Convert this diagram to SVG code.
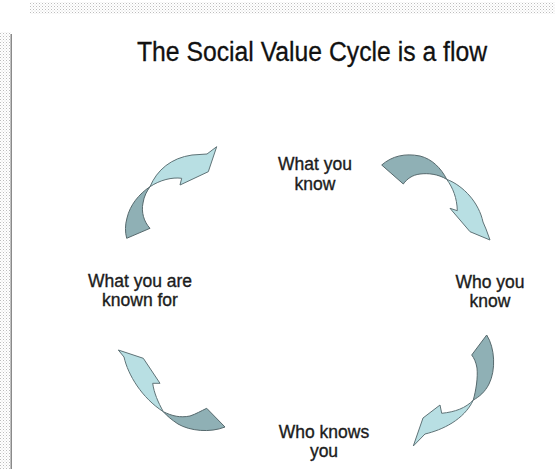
<svg xmlns="http://www.w3.org/2000/svg" width="555" height="469" viewBox="0 0 555 469">
  <defs>
    <pattern id="dots" width="3" height="3" patternUnits="userSpaceOnUse">
      <rect x="0" y="0" width="1" height="1" fill="#bdbdbd"/>
      <rect x="1.5" y="1.5" width="1" height="1" fill="#d6d6d6"/>
    </pattern>
    <style>
      .lbl { font-family: "Liberation Sans", Arial, sans-serif; font-size: 17.5px; fill: #1c1c1c; stroke: #1c1c1c; stroke-width: 0.35; text-anchor: middle; }
      .title { font-family: "Liberation Sans", Arial, sans-serif; font-size: 27px; fill: #111; stroke: #111; stroke-width: 0.3; text-anchor: middle; }
      .tail { fill: #8fb0b5; stroke: #56696d; stroke-width: 1; stroke-linejoin: round; }
      .head { fill: #b8dfe3; stroke: #5f7377; stroke-width: 1; stroke-linejoin: round; }
    </style>
  </defs>
  <rect x="0" y="0" width="555" height="469" fill="#ffffff"/>
  <!-- border decoration -->
  <rect x="30" y="2" width="525" height="12" fill="url(#dots)"/>
  <rect x="0" y="32" width="11" height="437" fill="url(#dots)"/>
  <rect x="10.5" y="34" width="1.5" height="435" fill="#8a8a8a"/>

  <text class="title" x="312" y="61" textLength="350" lengthAdjust="spacingAndGlyphs">The Social Value Cycle is a flow</text>

  <g id="node-what-you-know">
    <text class="lbl" x="315" y="170">What you</text>
    <text class="lbl" x="315" y="190">know</text>
  </g>
  <g id="node-who-you-know">
    <text class="lbl" x="490" y="288">Who you</text>
    <text class="lbl" x="490" y="307">know</text>
  </g>
  <g id="node-who-knows-you">
    <text class="lbl" x="324" y="438">Who knows</text>
    <text class="lbl" x="324" y="457">you</text>
  </g>
  <g id="node-what-you-are-known-for">
    <text class="lbl" x="140" y="287">What you are</text>
    <text class="lbl" x="140" y="306">known for</text>
  </g>

  <g id="connectors">
    <!-- top-right -->
    <g id="arrow-tr">
      <path class="tail" d="M381.7,165 C392,156 405,153 420,156 C432,159 441,168 446.7,179.3 C438,174 428,173 420,174 C412,175 407,179 403.3,184 Z"/>
      <path class="head" d="M446.7,179.3 C464,186 479,203 483,222 L486,229 L490,240 L470,231.7 L450,208.3 L457.3,210.7 C457,198 453,188 446.7,179.3 Z"/>
    </g>
    <!-- bottom-right -->
    <g id="arrow-br">
      <path class="tail" d="M486.7,335 C495,348 496,370 489,384 C485,392 479,397 473.3,400 C476,390 478,378 477,368 C476,362 474,358 471.7,355 Z"/>
      <path class="head" d="M473.3,400 C466,408 455,412 441.7,413.3 L440,405 L423,418 L413.3,446 L425,434 C442,430 464,420 473.3,400 Z"/>
    </g>
    <!-- bottom-left -->
    <g id="arrow-bl">
      <path class="tail" d="M206.7,408.3 L225,427 C210,433 190,431 178,424 C172,420 167,416 163.3,411.7 C172,416 180,418 190,416 C196,414 201,411 206.7,408.3 Z"/>
      <path class="head" d="M163.3,411.7 C158,402 154,393 152.7,383.3 L160,383.3 L143.3,358.3 L118.3,350 L124,357 C128,375 142,398 163.3,411.7 Z"/>
    </g>
    <!-- top-left -->
    <g id="arrow-tl">
      <path class="tail" d="M126.7,238.3 L150,228.3 C144,222 141,212 143,203 C144,196 147,191 150,186.7 C139,194 130,205 127,218 C125,225 125,232 126.7,238.3 Z"/>
      <path class="head" d="M150,186.7 C157,170 171,158 192,155 L207,154 L216.7,146.7 L208.3,171.7 L180,185 L181.7,178.3 C172,177 160,180 150,186.7 Z"/>
    </g>
  </g>
</svg>
